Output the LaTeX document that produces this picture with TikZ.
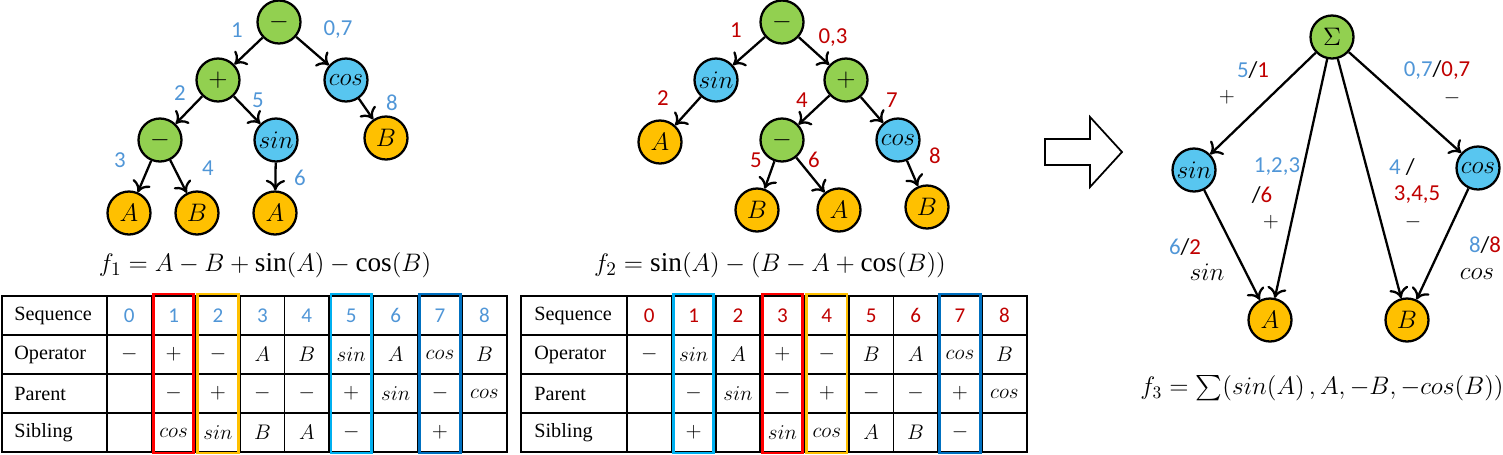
\documentclass[tikz,border=0pt]{standalone}
\usepackage{amsmath}
\usepackage{fontspec}
\setmainfont{Liberation Serif}
\newfontfamily\labfont{Carlito}
\usetikzlibrary{arrows.meta}
\definecolor{leafgreen}{RGB}{146, 208, 80}
\definecolor{skyblue}{RGB}{88, 198, 240}
\definecolor{amber}{RGB}{255, 192, 0}
\definecolor{numblue}{RGB}{80, 150, 215}
\definecolor{numred}{RGB}{192, 0, 0}
\definecolor{boxred}{RGB}{255, 0, 0}
\definecolor{boxcyan}{RGB}{0, 176, 240}
\definecolor{boxnavy}{RGB}{0, 112, 192}
\def\colw{44.4}
\tikzset{
  op/.style={circle, draw, line width=1.3pt, minimum size=0.86cm, inner sep=0pt, fill=leafgreen, font=\fontsize{14}{16}\selectfont},
  fn/.style={op, fill=skyblue},
  leaf/.style={op, fill=amber},
  edge/.style={line width=1.3pt, -{To[length=6pt, width=11pt]}},
  lab/.style={font=\labfont\fontsize{13}{15}\selectfont, inner sep=0pt},
  cell/.style={font=\fontsize{11.5}{13}\selectfont, inner sep=0pt},
  frm/.style={font=\fontsize{15.5}{18}\selectfont}
}
\begin{document}
\begin{tikzpicture}[x=0.02cm, y=-0.02cm]
 \useasboundingbox (0, 0) rectangle (1503, 454);

 % first tree
 \node[op] (a0) at (279, 22) {$-$};
 \node[op] (a1) at (218, 80) {$+$};
 \node[fn] (a7) at (346, 80) {$cos$};
 \node[op] (a2) at (160, 140) {$-$};
 \node[fn] (a5) at (276, 140) {$sin$};
 \node[leaf] (a8) at (386, 138) {$B$};
 \node[leaf] (a3) at (129, 213) {$A$};
 \node[leaf] (a4) at (197, 213) {$B$};
 \node[leaf] (a6) at (275, 213) {$A$};
 \foreach \p/\c in {a0/a1, a0/a7, a1/a2, a1/a5, a7/a8, a2/a3, a2/a4, a5/a6}
   \draw[edge] (\p) -- (\c);
 \foreach \t/\x/\y [count=\i] in {1/237/30, {0,7}/338/30, 2/180/93, 5/258/100, 8/392/103, 3/120/160, 4/208/168, 6/300/178}
   \node[lab, numblue] (la\i) at (\x, \y) {\t};
 \node[frm] (f1) at (265, 265) {$f_1 = A - B + \sin(A) - \cos(B)$};

 % second tree
 \node[op] (b0) at (782, 22) {$-$};
 \node[fn] (b1) at (716, 80) {$sin$};
 \node[op] (b3) at (846, 80) {$+$};
 \node[leaf] (b2) at (660, 142) {$A$};
 \node[op] (b4) at (782, 140) {$-$};
 \node[fn] (b7) at (898, 140) {$cos$};
 \node[leaf] (b5) at (757, 210) {$B$};
 \node[leaf] (b6) at (839, 210) {$A$};
 \node[leaf] (b8) at (927, 207) {$B$};
 \foreach \p/\c in {b0/b1, b0/b3, b1/b2, b3/b4, b3/b7, b4/b5, b4/b6, b7/b8}
   \draw[edge] (\p) -- (\c);
 \foreach \t/\x/\y [count=\i] in {1/736/30, {0,3}/833/38, 2/663/98, 4/802/100, 7/892/100, 5/756/160, 6/814/160, 8/935/156}
   \node[lab, numred] (lb\i) at (\x, \y) {\t};
 \node[frm] (f2) at (770, 265) {$f_2 = \sin(A) - (B - A + \cos(B))$};

 % first table
 \draw[line width=0.9pt] (2, 296) rectangle (507, 452);
 \foreach \y in {335, 374, 413}
   \draw[line width=0.9pt] (2, \y) -- (507, \y);
 \foreach \k in {0,...,8}
   \draw[line width=0.9pt] (107+\k*\colw, 296) -- (107+\k*\colw, 452);
 \foreach \r/\t in {1/Sequence, 2/Operator, 3/Parent, 4/Sibling}
   \node[cell, anchor=west] (ta\r) at (14, 296+\r*39-19.5) {\t};
 \foreach \t [count=\k from 0] in {0,...,8}
   \node[cell, font=\labfont\fontsize{12}{14}\selectfont, numblue] (tas\k) at (129.2+\k*\colw, 315.5) {\t};
 \foreach \t [count=\k from 0] in {-, +, -, A, B, sin, A, cos, B}
   \node[cell] (tao\k) at (129.2+\k*\colw, 354.5) {$\t$};
 \foreach \t [count=\k from 0] in {{}, -, +, -, -, +, sin, -, cos}
   \node[cell] (tap\k) at (129.2+\k*\colw, 393.5) {$\t$};
 \foreach \t [count=\k from 0] in {{}, cos, sin, B, A, -, {}, +, {}}
   \node[cell] (tab\k) at (129.2+\k*\colw, 432.5) {$\t$};
 \foreach \k/\c in {1/boxred, 2/amber, 5/boxcyan, 7/boxnavy}
   \draw[\c, line width=1.6pt] (109+\k*\colw, 294) rectangle (149.4+\k*\colw, 453);

 % second table
 \draw[line width=0.9pt] (521, 296) rectangle (1027, 452);
 \foreach \y in {335, 374, 413}
   \draw[line width=0.9pt] (521, \y) -- (1027, \y);
 \foreach \k in {0,...,8}
   \draw[line width=0.9pt] (627+\k*\colw, 296) -- (627+\k*\colw, 452);
 \foreach \r/\t in {1/Sequence, 2/Operator, 3/Parent, 4/Sibling}
   \node[cell, anchor=west] (tb\r) at (534, 296+\r*39-19.5) {\t};
 \foreach \t [count=\k from 0] in {0,...,8}
   \node[cell, font=\labfont\fontsize{12}{14}\selectfont, numred] (tbs\k) at (649.2+\k*\colw, 315.5) {\t};
 \foreach \t [count=\k from 0] in {-, sin, A, +, -, B, A, cos, B}
   \node[cell] (tbo\k) at (649.2+\k*\colw, 354.5) {$\t$};
 \foreach \t [count=\k from 0] in {{}, -, sin, -, +, -, -, +, cos}
   \node[cell] (tbp\k) at (649.2+\k*\colw, 393.5) {$\t$};
 \foreach \t [count=\k from 0] in {{}, +, {}, sin, cos, A, B, -, {}}
   \node[cell] (tbb\k) at (649.2+\k*\colw, 432.5) {$\t$};
 \foreach \k/\c in {1/boxcyan, 3/boxred, 4/amber, 7/boxnavy}
   \draw[\c, line width=1.6pt] (629+\k*\colw, 294) rectangle (669.4+\k*\colw, 453);

 % hollow arrow
 \draw[line width=1pt] (1045, 139) -- (1090, 139) -- (1090, 117) -- (1122, 152)
   -- (1090, 187) -- (1090, 165) -- (1045, 165) -- cycle;

 % merged graph
 \node[op] (s0) at (1332, 37) {$\Sigma$};
 \node[fn] (ssin) at (1194, 170) {$sin$};
 \node[fn] (scos) at (1478, 168) {$cos$};
 \node[leaf] (sA) at (1270, 320) {$A$};
 \node[leaf] (sB) at (1407, 320) {$B$};
 \foreach \p/\c in {s0/ssin, s0/scos, s0/sA, s0/sB, ssin/sA, scos/sB}
   \draw[edge] (\p) -- (\c);
 \node[lab] (e1) at (1253, 70) {\textcolor{numblue}{5}/\textcolor{numred}{1}};
 \node[lab] (e1s) at (1227, 97) {$+$};
 \node[lab] (e2) at (1437, 70) {\textcolor{numblue}{0,7}/\textcolor{numred}{0,7}};
 \node[lab] (e2s) at (1452, 98) {$-$};
 \node[lab, numblue] (e3) at (1277, 167) {1,2,3};
 \node[lab] (e3b) at (1262, 195) {/\textcolor{numred}{6}};
 \node[lab] (e3s) at (1271, 222) {$+$};
 \node[lab] (e4) at (1402, 167) {\textcolor{numblue}{4} /};
 \node[lab, numred] (e4b) at (1417, 195) {3,4,5};
 \node[lab] (e4s) at (1413, 222) {$-$};
 \node[lab] (e5) at (1185, 247) {\textcolor{numblue}{6}/\textcolor{numred}{2}};
 \node[lab, font=\fontsize{14}{16}\selectfont] (e5s) at (1207, 272) {$sin$};
 \node[lab] (e6) at (1485, 245) {\textcolor{numblue}{8}/\textcolor{numred}{8}};
 \node[lab, font=\fontsize{14}{16}\selectfont] (e6s) at (1477, 274) {$cos$};
 \node[frm, font=\fontsize{14}{17}\selectfont] (f3) at (1322, 388) {$f_3 = \sum(sin(A)\,, A, -B, -cos(B))$};
\end{tikzpicture}
\end{document}
